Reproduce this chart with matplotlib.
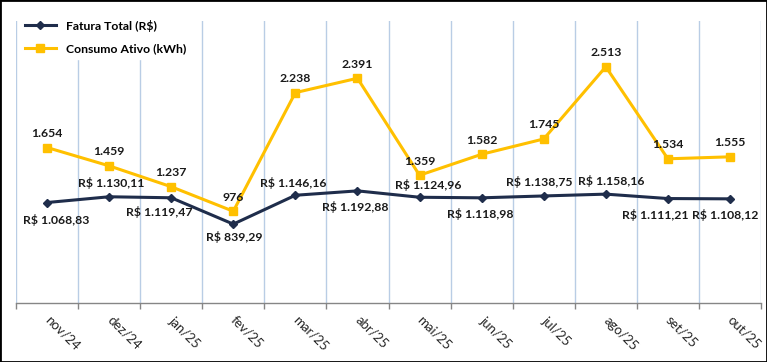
import matplotlib.pyplot as plt
from matplotlib.patches import Rectangle

plt.rcParams['font.family'] = ['Lato', 'DejaVu Sans']

meses = ['nov/24', 'dez/24', 'jan/25', 'fev/25', 'mar/25', 'abr/25',
         'mai/25', 'jun/25', 'jul/25', 'ago/25', 'set/25', 'out/25']
fatura = [1068.83, 1130.11, 1119.47, 839.29, 1146.16, 1192.88,
          1124.96, 1118.98, 1138.75, 1158.16, 1111.21, 1108.12]
consumo = [1654, 1459, 1237, 976, 2238, 2391, 1359, 1582, 1745, 2513, 1534, 1555]

# label offsets in pixels (dx, dy) for the invoice labels
off_fatura = [(9, -17), (2, 14), (-12, -14), (1, -13), (-2, 12), (-2, -16),
              (9, 12), (-1, -16), (-4, 14), (5, 13), (-13, -16), (-5, -16)]

navy = '#1F2D4B'
gold = '#FFC000'

fig = plt.figure(figsize=(7.67, 3.62), dpi=100)
ax = fig.add_axes([16/767, 1 - 303/362, 745/767, 282/362])

x = range(len(meses))
ax.plot(x, fatura, color=navy, lw=2.2, marker='D', ms=4.5, label='Fatura Total (R$)', zorder=3)
ax.plot(x, consumo, color=gold, lw=2.2, marker='s', ms=6, label='Consumo Ativo (kWh)', zorder=3)

def br(v, dec):
    s = f'{v:,.{dec}f}'
    return s.replace(',', 'X').replace('.', ',').replace('X', '.')

for i, v in enumerate(consumo):
    ax.annotate(br(v, 0), (i, v), xytext=(0, 14), textcoords='offset pixels',
                ha='center', va='center', fontsize=8.8, fontweight='bold', color='#1a1a1a')
for i, v in enumerate(fatura):
    dx, dy = off_fatura[i]
    ax.annotate('R$ ' + br(v, 2), (i, v), xytext=(dx, dy), textcoords='offset pixels',
                ha='center', va='center', fontsize=8.8, fontweight='bold', color='#1a1a1a')

ax.set_ylim(0, 3000)
ax.set_xlim(-0.5, len(meses) - 0.5)
ax.set_yticks([])
ax.set_xticks(list(x))
ax.set_xticklabels(meses, rotation=-45, ha='left', va='center', rotation_mode='anchor',
                   fontsize=9.5, color='#262626')
ax.set_xticks([i - 0.5 for i in range(len(meses) + 1)], minor=True)
ax.tick_params(axis='x', which='major', length=0, pad=11)
ax.tick_params(axis='x', which='minor', length=4, color='#868686', width=1)
ax.grid(axis='x', which='minor', color='#B9CDE5', lw=1)
for s in ['top', 'left', 'right']:
    ax.spines[s].set_visible(False)
ax.spines['bottom'].set_color('#868686')
ax.spines['bottom'].set_linewidth(1)

leg = ax.legend(loc='upper left', bbox_to_anchor=(0.0, 1 + 10/282), frameon=True, framealpha=1,
                edgecolor='white', facecolor='white', fancybox=False, handlelength=2.6,
                prop={'weight': 'bold', 'size': 8.8}, borderaxespad=0.3, labelspacing=0.95)
leg.set_zorder(5)

fig.patches.append(Rectangle((0, 0), 1, 1, transform=fig.transFigure, fill=False,
                             edgecolor='black', lw=2))

fig.savefig('out.png', dpi=100)
